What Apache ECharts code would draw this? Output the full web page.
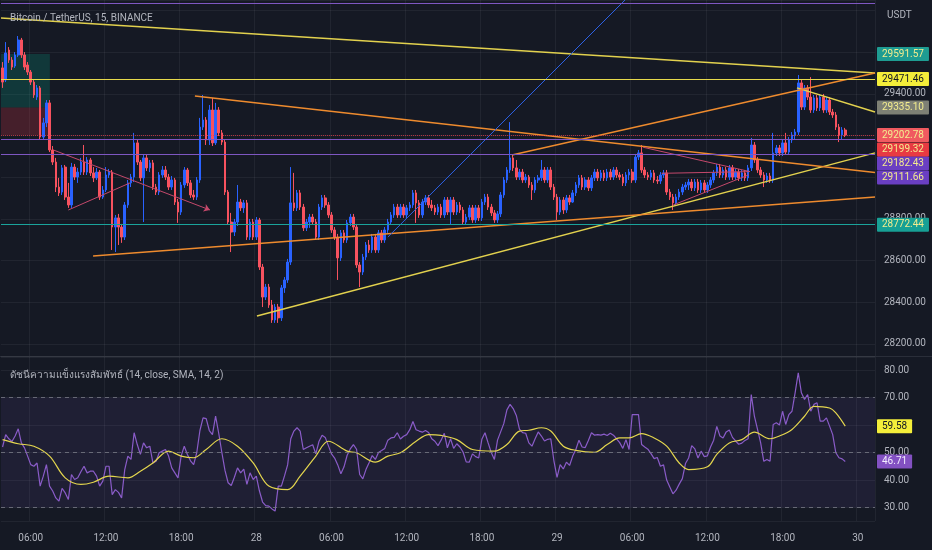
<!DOCTYPE html>
<html><head><meta charset="utf-8">
<script src="https://cdn.jsdelivr.net/npm/echarts@6/dist/echarts.min.js"></script>
<style>html,body{margin:0;padding:0;background:#151924;}#c{width:932px;height:550px;}</style>
</head><body><div id="c"></div><script>
// ---------- data ----------
const firstBar = { day: 27, hour: 3, minute: 45 };   // first 15-minute bar
const barSlots = 279;                                // slots on the time axis
const timeLabels = ['06:00','12:00','18:00','28','06:00','12:00','18:00','29','06:00','12:00','18:00','30'];
const firstLabelIndex = 9, labelStep = 24;

// [open, close, low, high]
const candles = [
[29525,29457,29429,29553],[29467,29597,29457,29649],[29611,29563,29549,29625],[29563,29529,29515,29577],[29534,29587,29525,29601],
[29587,29659,29577,29678],[29659,29587,29573,29669],[29587,29529,29515,29601],[29539,29505,29491,29553],[29505,29457,29443,29515],
[29457,29395,29381,29467],[29385,29429,29371,29443],[29429,29193,29179,29438],[29193,29261,29179,29285],[29261,29357,29241,29371],
[29357,29131,29121,29371],[29131,29073,29059,29150],[29073,28953,28929,29093],[28953,28925,28910,28997],[28929,29045,28915,29059],
[29049,28905,28891,29059],[28905,28867,28853,28973],[28867,29049,28853,29069],[29049,29001,28987,29064],[29001,29025,28973,29045],
[29025,29073,29011,29093],[29073,29025,29011,29155],[29025,29083,29011,29097],[29083,29021,29006,29093],[29021,28997,28977,29049],
[28997,29025,28987,29045],[29025,28905,28891,29035],[28905,28939,28896,28958],[28939,29011,28929,29049],[29011,29025,28997,29040],
[29025,28761,28651,29035],[28761,28805,28641,28819],[28805,28761,28675,28824],[28761,28713,28685,28776],[28713,28867,28699,28881],
[28867,28973,28853,28987],[28973,29001,28953,29016],[29001,29165,28977,29213],[29165,29073,29059,29179],[29073,28997,28982,29083],
[28997,29093,28785,29107],[29093,29045,29030,29107],[29045,29069,29025,29083],[29069,28953,28939,29083],[28953,28929,28915,28968],
[28929,29011,28915,29025],[29011,29035,28997,29054],[29035,29001,28987,29054],[29001,28953,28939,29016],[28953,28987,28939,29006],
[28987,28881,28867,28997],[28881,28833,28781,28896],[28833,28963,28819,28977],[28963,29035,28949,29049],[29035,28973,28958,29045],
[28973,28915,28901,28987],[28915,28905,28891,28939],[28905,28987,28891,29001],[28987,29241,28973,29285],[29241,29275,29227,29395],
[29275,29179,29155,29289],[29179,29323,29155,29347],[29323,29165,29150,29381],[29165,29323,29155,29357],[29323,29213,29198,29337],
[29213,29169,29155,29227],[29169,28929,28915,29179],[28929,28785,28771,28939],[28785,28737,28641,28829],[28737,28785,28718,28800],
[28785,28881,28766,28963],[28881,28853,28838,28896],[28853,28877,28829,28891],[28877,28713,28699,28891],[28713,28785,28699,28800],
[28785,28713,28699,28800],[28713,28795,28699,28809],[28795,28569,28555,28805],[28569,28425,28377,28584],[28425,28473,28411,28488],
[28473,28387,28373,28488],[28387,28315,28301,28411],[28315,28377,28301,28392],[28377,28325,28301,28392],[28325,28469,28310,28483],
[28469,28507,28445,28521],[28507,28593,28493,28608],[28593,28877,28579,29049],[28877,28853,28838,29021],[28853,28925,28838,28939],
[28925,28857,28843,28939],[28857,28757,28742,28872],[28757,28785,28742,28800],[28785,28809,28757,28824],[28809,28785,28771,28824],
[28785,28713,28699,28800],[28713,28857,28699,28872],[28857,28901,28843,28915],[28901,28867,28853,28915],[28867,28819,28805,28881],
[28819,28747,28733,28833],[28747,28713,28699,28761],[28713,28613,28507,28728],[28613,28733,28598,28747],[28733,28699,28685,28747],
[28699,28781,28685,28795],[28781,28809,28766,28824],[28809,28761,28747,28824],[28761,28579,28565,28776],[28579,28545,28473,28593],
[28545,28617,28531,28632],[28617,28675,28603,28689],[28675,28651,28637,28699],[28651,28713,28637,28728],[28713,28651,28637,28728],
[28651,28733,28637,28747],[28733,28699,28685,28747],[28699,28747,28685,28761],[28747,28785,28733,28800],[28785,28819,28771,28833],
[28819,28857,28805,28872],[28857,28819,28805,28872],[28819,28857,28805,28872],[28857,28819,28805,28872],[28819,28853,28805,28867],
[28853,28867,28838,28881],[28867,28925,28853,28939],[28925,28877,28781,28939],[28877,28819,28805,28891],[28819,28881,28805,28896],
[28881,28901,28867,28915],[28901,28867,28853,28915],[28867,28853,28838,28891],[28853,28833,28819,28867],[28833,28857,28819,28872],
[28857,28819,28805,28872],[28819,28891,28805,28905],[28891,28833,28819,28905],[28833,28891,28771,28905],[28891,28833,28819,28905],
[28833,28867,28819,28881],[28867,28843,28829,28881],[28843,28785,28771,28857],[28785,28809,28771,28824],[28809,28853,28795,28867],
[28853,28795,28781,28867],[28795,28853,28781,28867],[28853,28805,28790,28867],[28805,28881,28790,28896],[28881,28905,28867,28920],
[28905,28857,28843,28920],[28857,28829,28814,28872],[28829,28795,28781,28843],[28795,28824,28781,28838],[28824,28915,28809,28929],
[28915,28987,28901,29001],[28987,29035,28973,29049],[29035,29093,29021,29265],[29093,29045,29030,29107],[29045,29001,28987,29083],
[29001,29025,28987,29040],[29025,28987,28973,29040],[28987,29001,28973,29016],[29001,28963,28949,29011],[28963,28939,28891,28977],
[28939,28987,28925,29001],[28987,28997,28973,29011],[28997,29035,28982,29083],[29035,28987,28973,29049],[28987,29035,28973,29049],
[29035,28953,28939,29049],[28953,28905,28891,28968],[28905,28833,28795,28920],[28833,28891,28819,28905],[28891,28843,28824,28905],
[28843,28901,28829,28915],[28901,28881,28867,28915],[28881,28925,28877,28939],[28925,28963,28910,28977],[28963,28997,28949,29011],
[28997,28953,28939,29011],[28953,28987,28939,29001],[28987,28949,28934,29001],[28949,28997,28934,29011],[28997,29025,28982,29040],
[29025,28997,28982,29040],[28997,29021,28982,29035],[29021,28997,28982,29035],[28997,29025,28982,29040],[29025,29001,28987,29040],
[29001,29035,28987,29049],[29035,29011,28997,29049],[29011,29001,28987,29025],[29001,28973,28958,29016],[28973,29011,28958,29025],
[29011,29025,28987,29040],[29025,28987,28973,29040],[28987,29097,28973,29112],[29097,29117,29083,29131],[29117,29035,29021,29155],
[29035,29011,28997,29049],[29011,29001,28987,29025],[29001,29021,28987,29035],[29021,28987,28973,29035],[28987,28982,28968,29006],
[28982,29011,28968,29025],[29011,29021,28997,29035],[29021,28929,28915,29035],[28929,28905,28891,28944],[28905,28877,28843,28920],
[28877,28905,28862,28920],[28905,28929,28891,28944],[28929,28953,28915,28968],[28953,28963,28939,28977],[28963,28977,28939,28992],
[28977,28949,28934,28992],[28949,28977,28934,28992],[28977,28939,28925,28992],[28939,28973,28925,28987],[28973,28939,28925,28987],
[28939,28963,28925,28977],[28963,28987,28949,29001],[28987,29021,28973,29035],[29021,29049,29006,29064],[29049,29011,28997,29064],
[29011,29035,28997,29049],[29035,29001,28987,29049],[29001,29045,28987,29059],[29045,29001,28987,29059],[29001,29025,28987,29040],
[29025,28997,28982,29040],[28997,29021,28982,29035],[29021,28997,28982,29035],[28997,29045,28982,29059],[29045,29155,29030,29189],
[29155,29083,29069,29169],[29083,29035,29021,29097],[29035,29011,28997,29049],[29011,28987,28953,29025],[28987,29006,28973,29021],
[29006,28987,28973,29021],[28987,29117,28973,29213],[29117,29141,29102,29155],[29141,29117,29102,29155],[29117,29165,29102,29179],
[29165,29121,29107,29213],[29121,29179,29107,29193],[29179,29203,29165,29217],[29203,29217,29179,29232],[29217,29453,29203,29491],
[29453,29337,29323,29467],[29337,29429,29323,29443],[29429,29385,29371,29443],[29385,29323,29309,29481],[29323,29381,29309,29395],
[29381,29333,29318,29395],[29333,29385,29318,29400],[29385,29323,29309,29400],[29323,29371,29309,29385],[29371,29313,29299,29385],
[29313,29299,29285,29328],[29299,29241,29227,29313],[29241,29203,29169,29256],[29203,29227,29179,29241],[29227,29202.78,29193,29237]
];

const rsiValues = [
52,56.5,55,54,56,58.6,53.5,51.7,48.7,45.6,
45,46.2,37.8,41.4,45.6,37.8,36,33.5,32.3,37,
35.3,32.9,42,40.2,40.8,43,45,42.6,43.2,43.2,
41.4,37.8,39.6,45,45,34.7,36.5,35.5,33.5,43.8,
48.7,47.5,57.2,52.9,49.3,53.5,51.7,52.3,46.2,46.8,
49.9,50.5,51.1,48.7,44.4,42.6,40.8,48.7,52.3,49.3,
47,45.6,50,58,62.6,62.3,58,56.5,63.2,57,
50,43.5,39,38,41,44.4,42.6,44,38.4,42.6,
40.2,41.4,36,32,30.7,30.5,29.5,28.7,37.8,37.8,
41.5,45.5,55,57.8,59,57.8,51.1,51.7,52.3,52.8,
49.5,54,56.3,55.5,52.5,49.5,48,45.5,42.3,44.8,
49,51.3,52.9,51.2,42,40.4,43.8,46.3,48.9,47.5,
50,50.7,51.5,54.5,55.3,55.5,57.2,54.9,55.9,56.5,
58.3,61.3,58.3,57.8,57.4,58,57.3,55,54.1,52.5,
54.5,57,51.7,55,51.5,53.2,52,50.2,46.6,46.5,
49.5,48.5,48,54.8,57.2,53.5,50,47.5,54.5,57.5,
60.5,65.5,67.5,66,63.5,58.5,57.2,57,53.5,52.3,
55,57.5,56,54.2,54.8,55,47,41,45.6,44,
46.5,45.3,48.7,51.1,54.5,52,51.8,54.4,57.2,56.3,
56.5,56.3,56.7,56.2,57,56.3,55,53.6,51.5,54.7,
51.1,63.8,63.8,63.8,52.9,52,51.2,49.6,47.8,48.2,
45,45.5,40,37.5,35,36.3,38.5,40.5,46,48,
52.5,51.3,48,50.5,48.5,48.8,52,54.5,59.5,56,
55.3,57.5,58.2,55.5,54.2,53,53.4,54.4,55,71.1,
63.2,58.4,53.5,46.8,47.5,46.8,60.2,60.8,60,65,
60.2,63.8,65,71.7,79,71.7,69.3,71.1,65,67.5,
68.1,61.4,61.4,62.6,59.6,56.5,49.9,48.1,47.7,46.71
];

// [bar index, RSI-based MA]
const rsiMaPoints = [
[0,54.7],[5,53.2],[10,52.3],[15,48.7],[20,40.8],[25,38.4],[29,39.2],[34,41.4],[40,40.8],[44,43.2],
[48,46.2],[53,50.5],[57,48.7],[61,48.1],[65,51.1],[70,55],[75,52.3],[80,46.2],[85,37.8],[91,36.5],
[95,41.4],[100,48.7],[104,54.1],[110,50.5],[113,49.9],[119,46.5],[123,48.7],[127,49.9],[132,54.1],[136,56.5],
[140,56.2],[145,54.7],[150,51.1],[157,50.5],[161,52.9],[165,57.8],[168,58.1],[172,59],[175,57.8],[179,52.3],
[183,50.8],[189,50.1],[193,52.9],[197,55.3],[200,55.3],[204,56.9],[208,55.3],[212,52.3],[216,46.2],[219,43.8],
[225,44.8],[228,49.3],[232,53.5],[236,54.7],[240,57.4],[245,55],[248,56],[252,58.4],[256,63.2],[259,66.8],
[264,66.2],[266,64.4],[269,59.58]
];

// horizontal levels and tags (price)
const yellowLevel = 29471.46;
const purpleLevels = [29182.43, 29111.66];
const tealLevel = 28772.44;
const lastPrice = 29202.78;
const extraTag = 29199.32;
const topFrameLevel = 29837;
const positionLevels = [29591.57, 29335.10, 29202.78];   // target, entry, stop
const positionSpan = [-0.5, 15.1];                          // bar index range
const rsiBands = [70, 50, 30];
const rsiLast = 46.71, rsiMaLast = 59.58;

// trend lines: [barIndex0, price0, barIndex1, price1]
const yellowTrends = [[-0.5,29764,278.5,29501],[81.2,28334,278.5,29117],[253.6,29429,278.5,29313]];
const orangeTrends = [[61.4,29390,278.5,29023],[162.6,29107,278.5,29501],[28.9,28622,278.5,28905]];
const blueTrends   = [[123.0,28713,198.7,29851]];
const pinkTrends   = [[21.0,28843,40.7,28973],[204.5,29144,238.6,29027],[210.4,29019,238.1,29027],[214.1,28867,238.1,29011]];
const pinkArrows   = [[16.2,29131,66.2,28843]];

// ---------- chart ----------
const categories = [];
for (let i = 0; i < barSlots; i++) {
  const t = firstBar.day * 1440 + firstBar.hour * 60 + firstBar.minute + i * 15;
  const d = Math.floor(t / 1440), m = t % 1440;
  categories.push(d + ' ' + String(Math.floor(m / 60)).padStart(2, '0') + ':' + String(m % 60).padStart(2, '0'));
}
const isMajor = (idx) => idx >= firstLabelIndex && (idx - firstLabelIndex) % labelStep === 0;

const BG = '#151924', GRID = 'rgba(255,255,255,0.055)', TXT = '#B2B5BE';
const UP = '#2962FF', DOWN = '#F7525F';
const FONT = 'Roboto, sans-serif';
const TAG_TXT = '#F3EC8E';
const NONE = 'rgba(0,0,0,0)';

function tag(bg, fg, dy) {
  return { show: true, position: 'end', distance: 2, backgroundColor: bg, color: fg,
    padding: [2, 5, 2, 5], fontSize: 10, lineHeight: 10, fontFamily: FONT, borderRadius: 1,
    offset: [0, dy || 0], formatter: (p) => Number(p.value).toFixed(2) };
}
function hline(v, color, width, type, label) {
  return { yAxis: v, lineStyle: { color, width, type: type || 'solid' }, label: label || { show: false } };
}
function trend(arr, color, width, arrow) {
  return arr.map(t => [
    { coord: [t[0], t[1]], lineStyle: { color, width, type: 'solid' }, symbol: 'none' },
    { coord: [t[2], t[3]], symbol: arrow ? 'arrow' : 'none', symbolSize: arrow ? 6 : 0 }
  ]);
}

const option = {
  backgroundColor: BG,
  animation: false,
  textStyle: { fontFamily: FONT },
  title: [
    { text: 'Bitcoin / TetherUS, 15, BINANCE', left: 5, top: 8, textStyle: { color: TXT, fontSize: 10, fontWeight: 'normal', fontFamily: FONT } },
    { text: 'ดัชนีความแข็งแรงสัมพัทธ์ (14, close, SMA, 14, 2)', left: 5, top: 365, textStyle: { color: TXT, fontSize: 10, fontWeight: 'normal', fontFamily: FONT } },
    { text: 'USDT', left: 882, top: 5, textStyle: { color: TXT, fontSize: 10, fontWeight: 'normal', fontFamily: FONT } }
  ],
  graphic: [{ type: 'rect', left: 0, top: 356, shape: { width: 932, height: 1 }, style: { fill: '#2A2E39' }, silent: true }],
  grid: [
    { left: 1, top: 0, width: 874, height: 356 },
    { left: 1, top: 357, width: 874, height: 164 }
  ],
  xAxis: [
    { type: 'category', gridIndex: 0, data: categories, boundaryGap: true,
      axisLine: { show: false }, axisTick: { show: false }, axisLabel: { show: false },
      splitLine: { show: true, interval: isMajor, lineStyle: { color: GRID } } },
    { type: 'value', gridIndex: 0, min: -0.5, max: 278.5, show: false },
    { type: 'category', gridIndex: 1, data: categories, boundaryGap: true,
      axisLine: { show: false }, axisTick: { show: false },
      axisLabel: { interval: isMajor, color: TXT, fontSize: 10, margin: 12, fontFamily: FONT,
        formatter: (v, i) => timeLabels[(i - firstLabelIndex) / labelStep] },
      splitLine: { show: true, interval: isMajor, lineStyle: { color: GRID } } }
  ],
  yAxis: [
    { type: 'value', gridIndex: 0, position: 'right', min: 28142, max: 29851, minInterval: 200, maxInterval: 200,
      axisLine: { show: false }, axisTick: { show: false },
      axisLabel: { color: TXT, fontSize: 10, margin: 9, fontFamily: FONT, showMinLabel: false, showMaxLabel: false,
        formatter: (v) => (Math.abs(v / 200 - Math.round(v / 200)) < 1e-6 && v < 29700) ? v.toFixed(2) : '' },
      splitLine: { lineStyle: { color: GRID } } },
    { type: 'value', gridIndex: 1, position: 'right', min: 25.1, max: 84.73, minInterval: 10, maxInterval: 10,
      axisLine: { show: false }, axisTick: { show: false },
      axisLabel: { color: TXT, fontSize: 10, margin: 9, fontFamily: FONT, showMinLabel: false, showMaxLabel: false,
        formatter: (v) => (Math.abs(v / 10 - Math.round(v / 10)) < 1e-6) ? v.toFixed(2) : '' },
      splitLine: { lineStyle: { color: GRID } } }
  ],
  series: [
    { type: 'candlestick', xAxisIndex: 0, yAxisIndex: 0, data: candles, barWidth: '66%',
      itemStyle: { color: UP, color0: DOWN, borderColor: UP, borderColor0: DOWN, borderWidth: 1 } },
    // position tool box
    { type: 'line', xAxisIndex: 1, yAxisIndex: 0, data: [], silent: true,
      markArea: { silent: true, data: [
        [{ coord: [positionSpan[0], positionLevels[0]], itemStyle: { color: 'rgba(8,153,129,0.24)' } }, { coord: [positionSpan[1], positionLevels[1]] }],
        [{ coord: [positionSpan[0], positionLevels[1]], itemStyle: { color: 'rgba(242,54,69,0.22)' } }, { coord: [positionSpan[1], positionLevels[2]] }]
      ] } },
    // trend lines
    { type: 'line', xAxisIndex: 1, yAxisIndex: 0, data: [], silent: true,
      markLine: { silent: true, symbol: ['none', 'none'], label: { show: false }, data: [
        ...trend(yellowTrends, '#E2D14E', 1.5),
        ...trend(orangeTrends, '#EE8B2E', 1.5),
        ...trend(blueTrends, '#2E62E6', 1),
        ...trend(pinkTrends, '#C4486B', 1),
        ...trend(pinkArrows, '#C4486B', 1, true)
      ] } },
    // horizontal levels with price tags
    { type: 'line', xAxisIndex: 0, yAxisIndex: 0, data: [], silent: true,
      markLine: { silent: true, symbol: ['none', 'none'], data: [
        hline(topFrameLevel, '#7E57C2', 1),
        hline(positionLevels[0], NONE, 1, 'solid', tag('#1E9C92', TAG_TXT)),
        hline(yellowLevel, '#E6D94C', 1.2, 'solid', tag('#F4EE3A', '#131722')),
        hline(positionLevels[1], NONE, 1, 'solid', tag('#7E8075', TAG_TXT)),
        hline(purpleLevels[0], '#7E57C2', 1.2, 'solid', tag('#6A3FC2', TAG_TXT, 24)),
        hline(purpleLevels[1], '#7E57C2', 1.2, 'solid', tag('#6A3FC2', TAG_TXT, 23.5)),
        hline(extraTag, NONE, 1, 'solid', tag('#E83A42', TAG_TXT, 13.7)),
        hline(lastPrice, 'rgba(242,54,69,0.7)', 1, 'dotted', tag('#F05A60', TAG_TXT)),
        hline(tealLevel, '#1AA39B', 1.2, 'solid', tag('#17A095', TAG_TXT))
      ] } },
    // RSI
    { type: 'line', xAxisIndex: 2, yAxisIndex: 1, data: rsiValues, showSymbol: false, silent: true,
      lineStyle: { color: '#8A5CC8', width: 1.2 },
      markArea: { silent: true, data: [[{ yAxis: 30, itemStyle: { color: 'rgba(126,87,194,0.1)' } }, { yAxis: 70 }]] },
      markLine: { silent: true, symbol: ['none', 'none'], data: [
        ...rsiBands.map(b => hline(b, 'rgba(120,123,134,0.8)', 1, [4, 4], { show: false })),
        hline(rsiLast, NONE, 1, 'solid', tag('#8351C2', '#F4EEFF'))
      ] } },
    { type: 'line', xAxisIndex: 2, yAxisIndex: 1, data: rsiMaPoints, showSymbol: false, silent: true, smooth: 0.35,
      lineStyle: { color: '#E4D64E', width: 1.2 },
      markLine: { silent: true, symbol: ['none', 'none'], data: [
        hline(rsiMaLast, NONE, 1, 'solid', tag('#F4EE3A', '#131722'))
      ] } }
  ]
};

const chart = echarts.init(document.getElementById('c'), null, { renderer: 'canvas' });
chart.setOption(option);
</script></body></html>
